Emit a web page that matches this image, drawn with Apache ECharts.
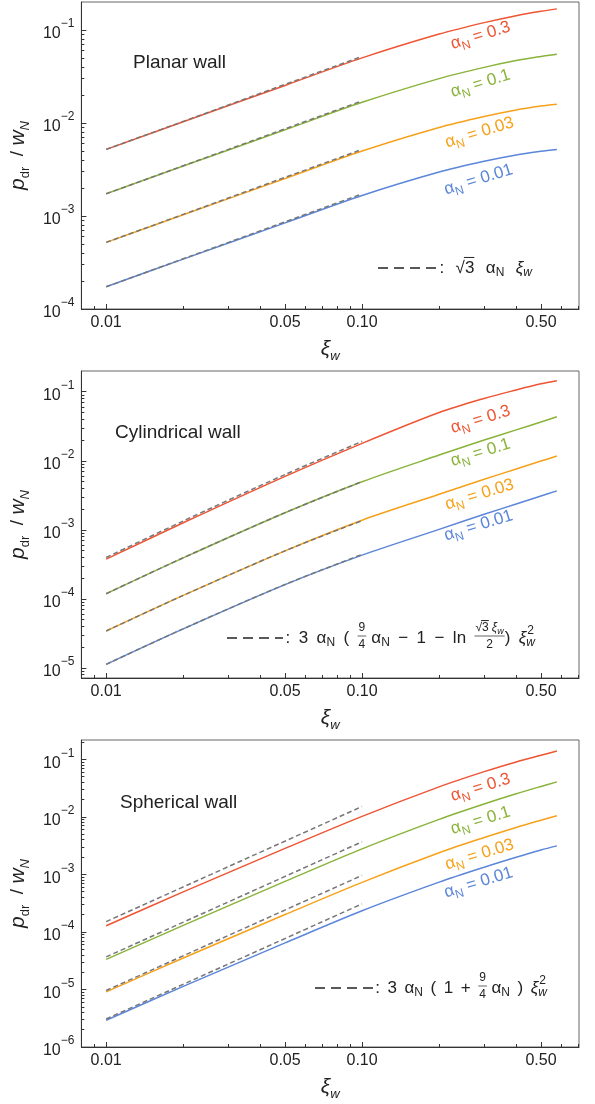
<!DOCTYPE html>
<html>
<head>
<meta charset="utf-8">
<title>p_dr / w_N versus xi_w</title>
<script src="https://cdn.jsdelivr.net/npm/echarts@6/dist/echarts.min.js"></script>
<style>
html, body { margin: 0; padding: 0; background: #fff; }
#chart { width: 595px; height: 1104px; }
</style>
</head>
<body>
<div id="chart"></div>
<script>
var xiCurve = [0.01, 0.02, 0.05, 0.1, 0.2, 0.3, 0.4, 0.5, 0.577];
var xiDash = [0.01, 0.1];
var xiDashCyl = [0.01, 0.02, 0.05, 0.1];
var alphaN = ['0.3', '0.1', '0.03', '0.01'];

// planar wall
var planar03 = [5.2e-3, 1.033e-2, 2.535e-2, 5.01e-2, 9.04e-2, 0.120, 0.1426, 0.159, 0.1687];
var planar01 = [1.732e-3, 3.443e-3, 8.445e-3, 1.668e-2, 3.0e-2, 3.965e-2, 4.69e-2, 5.196e-2, 5.5e-2];
var planar003 = [5.2e-4, 1.033e-3, 2.53e-3, 4.994e-3, 8.95e-3, 1.175e-2, 1.38e-2, 1.52e-2, 1.595e-2];
var planar001 = [1.732e-4, 3.44e-4, 8.43e-4, 1.663e-3, 2.97e-3, 3.88e-3, 4.54e-3, 4.96e-3, 5.19e-3];
var planarDash03 = [5.2e-3, 5.2e-2];
var planarDash01 = [1.732e-3, 1.732e-2];
var planarDash003 = [5.2e-4, 5.2e-3];
var planarDash001 = [1.732e-4, 1.732e-3];

// cylindrical wall
var cyl03 = [3.76e-4, 1.265e-3, 5.95e-3, 1.79e-2, 5.0e-2, 8.0e-2, 0.106, 0.130, 0.144];
var cyl01 = [1.19e-4, 3.93e-4, 1.77e-3, 4.97e-3, 1.21e-2, 2.0e-2, 2.8e-2, 3.65e-2, 4.35e-2];
var cyl003 = [3.43e-5, 1.124e-4, 4.97e-4, 1.38e-3, 3.27e-3, 5.4e-3, 7.6e-3, 9.9e-3, 1.17e-2];
var cyl001 = [1.13e-5, 3.68e-5, 1.61e-4, 4.3e-4, 1.016e-3, 1.68e-3, 2.37e-3, 3.09e-3, 3.67e-3];
var cylDash03 = [3.98e-4, 1.343e-3, 6.33e-3, 1.91e-2];
var cylDash01 = [1.19e-4, 3.94e-4, 1.773e-3, 5.01e-3];
var cylDash003 = [3.43e-5, 1.124e-4, 4.97e-4, 1.36e-3];
var cylDash001 = [1.13e-5, 3.69e-5, 1.62e-4, 4.4e-4];

// spherical wall
var sph03 = [1.28e-4, 4.95e-4, 2.82e-3, 1.018e-2, 3.31e-2, 6.08e-2, 8.97e-2, 0.1172, 0.139];
var sph01 = [3.33e-5, 1.296e-4, 7.53e-4, 2.77e-3, 9.0e-3, 1.666e-2, 2.507e-2, 3.367e-2, 4.04e-2];
var sph003 = [9.08e-6, 3.51e-5, 2.0e-4, 7.26e-4, 2.37e-3, 4.36e-3, 6.52e-3, 8.72e-3, 1.045e-2];
var sph001 = [2.92e-6, 1.128e-5, 6.43e-5, 2.33e-4, 7.31e-4, 1.332e-3, 1.982e-3, 2.65e-3, 3.12e-3];
var sphDash03 = [1.51e-4, 1.51e-2];
var sphDash01 = [3.68e-5, 3.68e-3];
var sphDash003 = [9.6e-6, 9.6e-4];
var sphDash001 = [3.07e-6, 3.07e-4];

// ticks
var xTickValues = [0.01, 0.05, 0.1, 0.5];
var xTickLabels = ['0.01', '0.05', '0.10', '0.50'];
var xMinorTicks = [0.009, 0.02, 0.03, 0.04, 0.06, 0.07, 0.08, 0.09, 0.2, 0.3, 0.4, 0.6, 0.7];
var yDecades1 = [-4, -3, -2, -1];
var yDecades2 = [-5, -4, -3, -2, -1];
var yDecades3 = [-6, -5, -4, -3, -2, -1];
var panelTitles = ['Planar wall', 'Cylindrical wall', 'Spherical wall'];

var L = Math.log10;
var FONT = '"Liberation Sans", Arial, sans-serif';
var INK = '#222';
var colors = ['#EE5533', '#8AB33A', '#F7A11A', '#5B86D9'];
var dashColor = '#777';

// little layout helpers for the formula keys
function T(t, o) { return Object.assign({ t: t, s: 17 }, o || {}); }
function S(t, o) { return Object.assign({ t: t, s: 12, dy: 5 }, o || {}); }
function F(t, o) { return Object.assign({ t: t, s: 12 }, o || {}); }

var formulas = [
  [{ dash: 58 }, { g: 0.3 }, T(':'), { g: 1 }, T('√'), T('3', { bar: 1 }), { g: 1 }, T('α'), S('N'),
   { g: 1 }, T('ξ', { it: 1 }), S('w', { it: 1 })],
  [{ dash: 56 }, { g: 0.3 }, T(':'), { g: 1 }, T('3'), { g: 1 }, T('α'), S('N'), { g: 1 }, T('('), { g: 1 },
   { frac: [[F('9')], [F('4')]] }, { g: 0.6 }, T('α'), S('N'), { g: 1 }, T('−'), { g: 1 }, T('1'), { g: 1 },
   T('−'), { g: 1 }, T('ln'), { g: 1 },
   { frac: [[F('√'), F('3', { bar: 1 }), { gp: 3 }, F('ξ', { it: 1 }), F('w', { s: 9, it: 1, dy: 3 })], [F('2')]] },
   T(')'), { g: 1 }, T('ξ', { it: 1 }), { ss: ['w', '2'] }],
  [{ dash: 58 }, { g: 0.3 }, T(':'), { g: 1 }, T('3'), { g: 1 }, T('α'), S('N'), { g: 1 }, T('('), { g: 1 },
   T('1'), { g: 1 }, T('+'), { g: 1 }, { frac: [[F('9')], [F('4')]] }, { g: 0.6 }, T('α'), S('N'), { g: 1 },
   T(')'), { g: 1 }, T('ξ', { it: 1 }), { ss: ['w', '2'] }]
];

var ctx = document.createElement('canvas').getContext('2d');
function fontOf(p) { return (p.it ? 'italic ' : '') + p.s + 'px ' + FONT; }
function textW(t, p) { ctx.font = fontOf(p); return ctx.measureText(t).width; }
function pieceW(p) {
  if (p.g) return 0;
  if (p.gp) return p.gp;
  if (p.dash) return p.dash;
  if (p.frac) return Math.max(rowW(p.frac[0], 0), rowW(p.frac[1], 0)) + 2;
  if (p.ss) return Math.max(textW(p.ss[0], { s: 12, it: 1 }), textW(p.ss[1], { s: 12 }));
  return textW(p.t, p);
}
function rowW(ps, unit) {
  var w = 0;
  ps.forEach(function (p) { w += pieceW(p) + (p.g ? p.g * unit : 0); });
  return w;
}
function txt(t, x, y, p) {
  return { type: 'text', x: x, y: y, silent: true, style: {
    text: t, fontSize: p.s, fontFamily: FONT, fontStyle: p.it ? 'italic' : 'normal',
    fill: INK, align: 'left', verticalAlign: 'middle' } };
}
function drawRow(ps, x, yc, unit, out) {
  ps.forEach(function (p) {
    var w = pieceW(p);
    if (p.g) { x += p.g * unit; return; }
    if (p.dash) {
      out.push({ type: 'line', silent: true, shape: { x1: x, y1: yc, x2: x + p.dash, y2: yc },
        style: { stroke: INK, lineWidth: 1.3, lineDash: [10, 6] } });
    } else if (p.frac) {
      var wn = rowW(p.frac[0], 0), wd = rowW(p.frac[1], 0);
      drawRow(p.frac[0], x + (w - wn) / 2, yc - 10, 0, out);
      drawRow(p.frac[1], x + (w - wd) / 2, yc + 7, 0, out);
      out.push({ type: 'line', silent: true, shape: { x1: x, y1: yc - 2, x2: x + w, y2: yc - 2 },
        style: { stroke: INK, lineWidth: 0.7 } });
    } else if (p.ss) {
      out.push(txt(p.ss[0], x, yc + 5, { s: 12, it: 1 }));
      out.push(txt(p.ss[1], x + 1, yc - 7, { s: 12 }));
    } else if (p.t) {
      out.push(txt(p.t, x, yc + (p.dy || 0), p));
      if (p.bar) {
        var by = yc + (p.dy || 0) - p.s * 0.62;
        out.push({ type: 'line', silent: true, shape: { x1: x - 1, y1: by, x2: x + w, y2: by },
          style: { stroke: INK, lineWidth: 1 } });
      }
    }
    x += w;
  });
}
function layoutFormula(ps, x0, x1, yc, out) {
  var gsum = 0;
  ps.forEach(function (p) { if (p.g) gsum += p.g; });
  var unit = Math.max(0, (x1 - x0 - rowW(ps, 0)) / gsum);
  drawRow(ps, x0, yc, unit, out);
}

var panels = [
  { top: 2, yMin: -4, yMax: L(0.2), decades: yDecades1,
    solid: [planar03, planar01, planar003, planar001], dashX: xiDash,
    dash: [planarDash03, planarDash01, planarDash003, planarDash001],
    titleAt: [133, 63], labelAt: [[481, 37], [481, 85], [480, 134], [479, 181]], formulaAt: [378, 532, 268] },
  { top: 371, yMin: -5.145, yMax: -0.7, decades: yDecades2,
    solid: [cyl03, cyl01, cyl003, cyl001], dashX: xiDashCyl,
    dash: [cylDash03, cylDash01, cylDash003, cylDash001],
    titleAt: [115, 433], labelAt: [[481, 421], [481, 454], [480, 496], [479, 527]], formulaAt: [227, 535, 638] },
  { top: 740, yMin: -6, yMax: -0.666, decades: yDecades3,
    solid: [sph03, sph01, sph003, sph001], dashX: xiDash,
    dash: [sphDash03, sphDash01, sphDash003, sphDash001],
    titleAt: [120, 803], labelAt: [[481, 789], [481, 822], [480, 856], [479, 884]], formulaAt: [315, 547, 988] }
];

function pairs(xs, ys) { return xs.map(function (x, i) { return [L(x), L(ys[i])]; }); }
function minorY(lo, hi) {
  var out = [];
  for (var n = Math.floor(lo); n < 0; n++) {
    for (var k = 2; k < 10; k++) { var v = n + L(k); if (v > lo && v < hi) out.push(v); }
  }
  return out;
}
function xLabel(v) {
  var best = 0;
  xTickValues.forEach(function (t, i) { if (Math.abs(L(t) - v) < Math.abs(L(xTickValues[best]) - v)) best = i; });
  return xTickLabels[best];
}
function yLabel(v) {
  var n = Math.round(v);
  return '{b|10}{s|' + (n < 0 ? '−' : '') + Math.abs(n) + '}';
}

var grids = [], xAxes = [], yAxes = [], series = [], graphics = [];
var tickLine = { color: '#333', width: 1 };

panels.forEach(function (p, g) {
  grids.push({ left: 81, top: p.top, width: 498, height: 307, show: true, borderColor: '#666', borderWidth: 1 });
  var xBase = { type: 'value', gridIndex: g, position: 'bottom', min: L(0.008), max: L(0.704), splitLine: { show: false } };
  var yBase = { type: 'value', gridIndex: g, position: 'left', min: p.yMin, max: p.yMax, splitLine: { show: false } };

  xAxes.push(Object.assign({}, xBase, {
    axisLine: { onZero: false, lineStyle: { color: '#333', width: 1 } },
    axisTick: { inside: true, length: 5, customValues: xTickValues.map(L), lineStyle: tickLine },
    axisLabel: { customValues: xTickValues.map(L), margin: 6, fontSize: 16, color: INK, fontFamily: FONT, formatter: xLabel },
    name: '{x|ξ}{w|w}', nameLocation: 'middle', nameGap: 42,
    nameTextStyle: { verticalAlign: 'middle', rich: {
      x: { fontSize: 21, fontStyle: 'italic', fontFamily: FONT, color: INK, lineHeight: 24, verticalAlign: 'top' },
      w: { fontSize: 13, fontStyle: 'italic', fontFamily: FONT, color: INK, lineHeight: 14, verticalAlign: 'bottom' } } }
  }));
  xAxes.push(Object.assign({}, xBase, {
    axisLine: { show: false }, axisLabel: { show: false },
    axisTick: { inside: true, length: 3, customValues: xMinorTicks.map(L), lineStyle: tickLine }
  }));

  yAxes.push(Object.assign({}, yBase, {
    axisLine: { onZero: false, lineStyle: { color: '#333', width: 1 } },
    axisTick: { inside: true, length: 5, customValues: p.decades, lineStyle: tickLine },
    axisLabel: { customValues: p.decades, margin: 7, formatter: yLabel, rich: {
      b: { fontSize: 16, fontFamily: FONT, color: INK, lineHeight: 24, verticalAlign: 'bottom' },
      s: { fontSize: 12, fontFamily: FONT, color: INK, lineHeight: 12, verticalAlign: 'top' } } },
    name: '{p|p}{d|dr}{t|  / }{p|w}{n|N}', nameLocation: 'middle', nameRotate: 90, nameGap: 55,
    nameTextStyle: { verticalAlign: 'middle', rich: {
      p: { fontSize: 21, fontStyle: 'italic', fontFamily: FONT, color: INK, lineHeight: 24, verticalAlign: 'top' },
      t: { fontSize: 19, fontFamily: FONT, color: INK, lineHeight: 24, verticalAlign: 'top' },
      d: { fontSize: 13, fontFamily: FONT, color: INK, lineHeight: 14, verticalAlign: 'bottom' },
      n: { fontSize: 13, fontStyle: 'italic', fontFamily: FONT, color: INK, lineHeight: 14, verticalAlign: 'bottom' } } }
  }));
  yAxes.push(Object.assign({}, yBase, {
    axisLine: { show: false }, axisLabel: { show: false },
    axisTick: { inside: true, length: 3, customValues: minorY(p.yMin, p.yMax), lineStyle: tickLine }
  }));

  p.solid.forEach(function (ys, i) {
    series.push({ type: 'line', xAxisIndex: 2 * g, yAxisIndex: 2 * g, data: pairs(xiCurve, ys),
      smooth: 0.3, symbol: 'none', silent: true, lineStyle: { color: colors[i], width: 1.5 } });
  });
  p.dash.forEach(function (ys) {
    series.push({ type: 'line', xAxisIndex: 2 * g, yAxisIndex: 2 * g, data: pairs(p.dashX, ys),
      smooth: 0.3, symbol: 'none', silent: true, z: 3, lineStyle: { color: dashColor, width: 1.5, type: [5, 3] } });
  });

  graphics.push({ type: 'text', x: p.titleAt[0], y: p.titleAt[1], silent: true,
    style: { text: panelTitles[g], fontSize: 19, fontFamily: FONT, fill: INK, align: 'left', verticalAlign: 'middle' } });

  p.labelAt.forEach(function (pos, i) {
    graphics.push({ type: 'text', x: pos[0], y: pos[1], rotation: 17 * Math.PI / 180, silent: true,
      style: { text: '{a|α}{n|N}{a| = ' + alphaN[i] + '}', fill: colors[i], align: 'center', verticalAlign: 'middle',
        rich: {
          a: { fontSize: 17, fontFamily: FONT, fill: colors[i], lineHeight: 20, verticalAlign: 'top' },
          n: { fontSize: 12, fontFamily: FONT, fill: colors[i], lineHeight: 12, verticalAlign: 'bottom' } } } });
  });

  layoutFormula(formulas[g], p.formulaAt[0], p.formulaAt[1], p.formulaAt[2], graphics);
});

var myChart = echarts.init(document.getElementById('chart'));
myChart.setOption({
  animation: false,
  backgroundColor: '#fff',
  textStyle: { fontFamily: FONT },
  grid: grids,
  xAxis: xAxes,
  yAxis: yAxes,
  series: series,
  graphic: graphics
});
</script>
</body>
</html>
